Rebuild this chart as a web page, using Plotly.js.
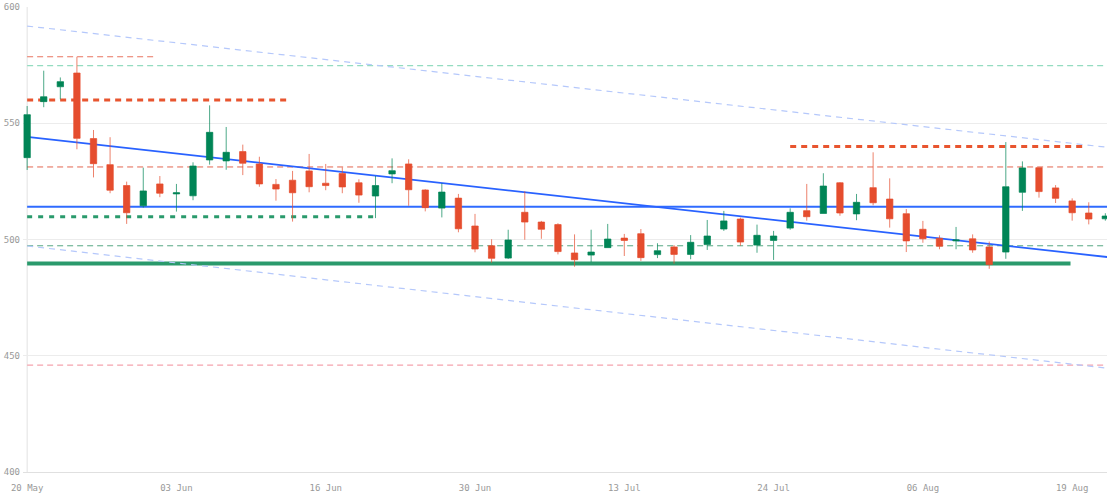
<!DOCTYPE html>
<html>
<head>
<meta charset="utf-8">
<script src="https://cdn.plot.ly/plotly-3.0.1.min.js"></script>
<style>
  html, body { margin: 0; padding: 0; background: #ffffff; }
  #chart { width: 1107px; height: 496px; }
</style>
</head>
<body>
<div id="chart"></div>
<script>
// ---- Data ----
const tickIndex = [0, 9, 18, 27, 36, 45, 54, 63];
const tickLabels = ['20 May', '03 Jun', '16 Jun', '30 Jun', '13 Jul', '24 Jul', '06 Aug', '19 Aug'];

const openPrices = [535.2, 559.3, 565.7, 571.6, 543.4, 532.2, 523.2, 514.5, 523.9, 519.6,
  518.8, 534.2, 533.8, 537.8, 532.5, 523.7, 525.5, 529.5, 524.2, 528.4,
  524.4, 518.7, 528.2, 532.5, 521.3, 513.5, 517.8, 505.8, 497.3, 492.0,
  511.7, 507.5, 506.4, 494.2, 493.3, 496.5, 500.6, 502.5, 493.5, 496.8,
  493.6, 497.8, 504.5, 508.8, 497.6, 499.6, 504.9, 512.4, 511.2, 524.4,
  511.0, 522.3, 517.4, 511.1, 504.4, 500.5, 499.4, 500.3, 496.8, 494.6,
  520.3, 530.9, 522.2, 516.6, 511.4, 508.9];
const highPrices = [557.4, 572.6, 569.7, 578.6, 547.1, 544.0, 524.9, 530.9, 527.3, 523.9,
  533.2, 557.7, 548.4, 540.8, 535.6, 526.0, 529.5, 536.8, 532.5, 531.0,
  525.9, 527.3, 534.9, 534.5, 521.6, 524.2, 519.6, 511.0, 500.1, 504.2,
  520.7, 508.0, 507.0, 502.2, 504.2, 506.7, 502.4, 504.5, 498.4, 497.6,
  501.9, 508.4, 512.3, 509.4, 506.4, 503.7, 513.4, 523.9, 528.5, 524.7,
  519.6, 537.5, 526.3, 513.1, 508.0, 501.8, 505.4, 502.2, 499.1, 541.9,
  533.6, 530.9, 523.4, 517.7, 516.0, 511.3];
const lowPrices = [529.9, 556.9, 560.3, 538.8, 526.7, 519.9, 506.7, 513.7, 518.2, 512.0,
  516.9, 532.2, 530.0, 527.7, 522.7, 516.7, 507.7, 520.3, 521.2, 519.9,
  515.8, 509.2, 524.2, 514.5, 512.1, 509.5, 503.1, 494.5, 490.0, 491.6,
  499.9, 500.3, 493.6, 488.3, 490.3, 496.5, 492.9, 490.8, 492.0, 489.6,
  491.5, 495.5, 503.7, 497.3, 494.3, 491.2, 504.2, 508.1, 511.2, 510.2,
  508.3, 514.7, 505.1, 494.6, 498.6, 495.8, 495.8, 494.3, 487.4, 491.7,
  512.3, 518.0, 515.7, 508.1, 506.5, 508.1];
const closePrices = [553.7, 561.4, 567.9, 543.5, 532.6, 521.2, 511.5, 520.9, 519.9, 520.1,
  531.6, 546.1, 537.5, 532.8, 523.9, 521.7, 520.1, 522.7, 523.2, 522.6,
  519.1, 523.2, 529.6, 521.4, 513.7, 520.4, 504.6, 495.9, 491.9, 499.8,
  507.5, 504.4, 494.8, 491.3, 494.6, 500.2, 499.6, 492.2, 495.2, 493.6,
  498.8, 501.5, 508.0, 498.9, 501.8, 501.5, 511.7, 509.8, 523.0, 511.4,
  516.0, 515.8, 508.9, 499.4, 500.3, 497.1, 499.8, 495.5, 489.2, 522.7,
  530.8, 520.6, 517.7, 511.5, 508.8, 510.1];

// Horizontal levels: value, first and last candle index covered
const levelValues = [578.6, 574.8, 560.0, 540.0, 531.2, 514.1, 509.8, 497.3, 489.7, 446.0];
const levelFrom   = [0, 0, 0, 46, 0, 0, 0, 0, 0, 0];
const levelTo     = [7.8, 66, 15.9, 63.7, 66, 66, 21, 66, 62.9, 66];

// Sloped lines: index endpoints and values
const trendIndex = [0, 65.2];
const mainTrend = [544.1, 492.4];
const upperChannel = [591.8, 539.6];
const lowerChannel = [497.2, 444.6];

// ---- Styles ----
const levelStyles = [
  {color: '#e8735f', width: 1, dash: '6px,4px'},
  {color: '#93dcc0', width: 1.2, dash: '6px,4px'},
  {color: '#e8552f', width: 3, dash: '6px,5px'},
  {color: '#e8552f', width: 3, dash: '6px,5px'},
  {color: '#e3654f', width: 1, dash: '6px,4px'},
  {color: '#2f6bff', width: 2, dash: 'solid'},
  {color: '#2a9a6c', width: 3, dash: '5px,6px'},
  {color: '#55a782', width: 1, dash: '6px,4px'},
  {color: '#2a9a6c', width: 4, dash: 'solid'},
  {color: '#f5a3ad', width: 1.2, dash: '6px,4px'}
];

const xIdx = openPrices.map((_, i) => i);

const shapes = [];
// y axis line at first candle
shapes.push({type: 'line', xref: 'x', yref: 'paper', x0: 0, x1: 0, y0: 0, y1: 1,
  line: {color: '#e2e2e2', width: 1}, layer: 'below'});

levelValues.forEach((v, i) => {
  shapes.push({type: 'line', xref: 'x', yref: 'y', x0: levelFrom[i], x1: levelTo[i], y0: v, y1: v,
    line: levelStyles[i], layer: 'between'});
});

[[upperChannel, {color: '#b5c8fb', width: 1.2, dash: '6px,5px'}],
 [lowerChannel, {color: '#b5c8fb', width: 1.2, dash: '6px,5px'}],
 [mainTrend, {color: '#2962ff', width: 1.8, dash: 'solid'}]].forEach(([vals, st]) => {
  shapes.push({type: 'line', xref: 'x', yref: 'y', x0: trendIndex[0], x1: trendIndex[1],
    y0: vals[0], y1: vals[1], line: st, layer: 'between'});
});

const candle = {
  type: 'candlestick',
  x: xIdx,
  open: openPrices,
  high: highPrices,
  low: lowPrices,
  close: closePrices,
  increasing: {line: {color: 'rgba(0,133,86,0.7)', width: 1}, fillcolor: '#008556'},
  decreasing: {line: {color: 'rgba(229,77,46,0.7)', width: 1}, fillcolor: '#e54d2e'},
  whiskerwidth: 0,
  showlegend: false,
  hoverinfo: 'none'
};

const tickFont = {family: 'DejaVu Sans Mono, monospace', size: 9, color: '#999999'};

const layout = {
  width: 1107,
  height: 496,
  margin: {l: 23, r: 0, t: 7, b: 24},
  paper_bgcolor: '#ffffff',
  plot_bgcolor: '#ffffff',
  showlegend: false,
  boxgap: 0.45,
  boxgroupgap: 0.3,
  xaxis: {
    type: 'linear',
    range: [-0.25, 65.1],
    tickvals: tickIndex,
    ticktext: tickLabels,
    tickfont: tickFont,
    showgrid: false,
    zeroline: false,
    showline: true,
    linecolor: '#e0e0e0',
    linewidth: 1,
    ticks: '',
    ticklabelstandoff: 7,
    rangeslider: {visible: false},
    fixedrange: true
  },
  yaxis: {
    range: [400, 600],
    tickvals: [400, 450, 500, 550, 600],
    tickfont: tickFont,
    showgrid: true,
    gridcolor: '#ececec',
    gridwidth: 1,
    zeroline: false,
    showline: false,
    ticks: '',
    ticklabelstandoff: 2,
    fixedrange: true
  },
  shapes: shapes
};

Plotly.newPlot('chart', [candle], layout, {displayModeBar: false, staticPlot: true});
</script>
</body>
</html>
